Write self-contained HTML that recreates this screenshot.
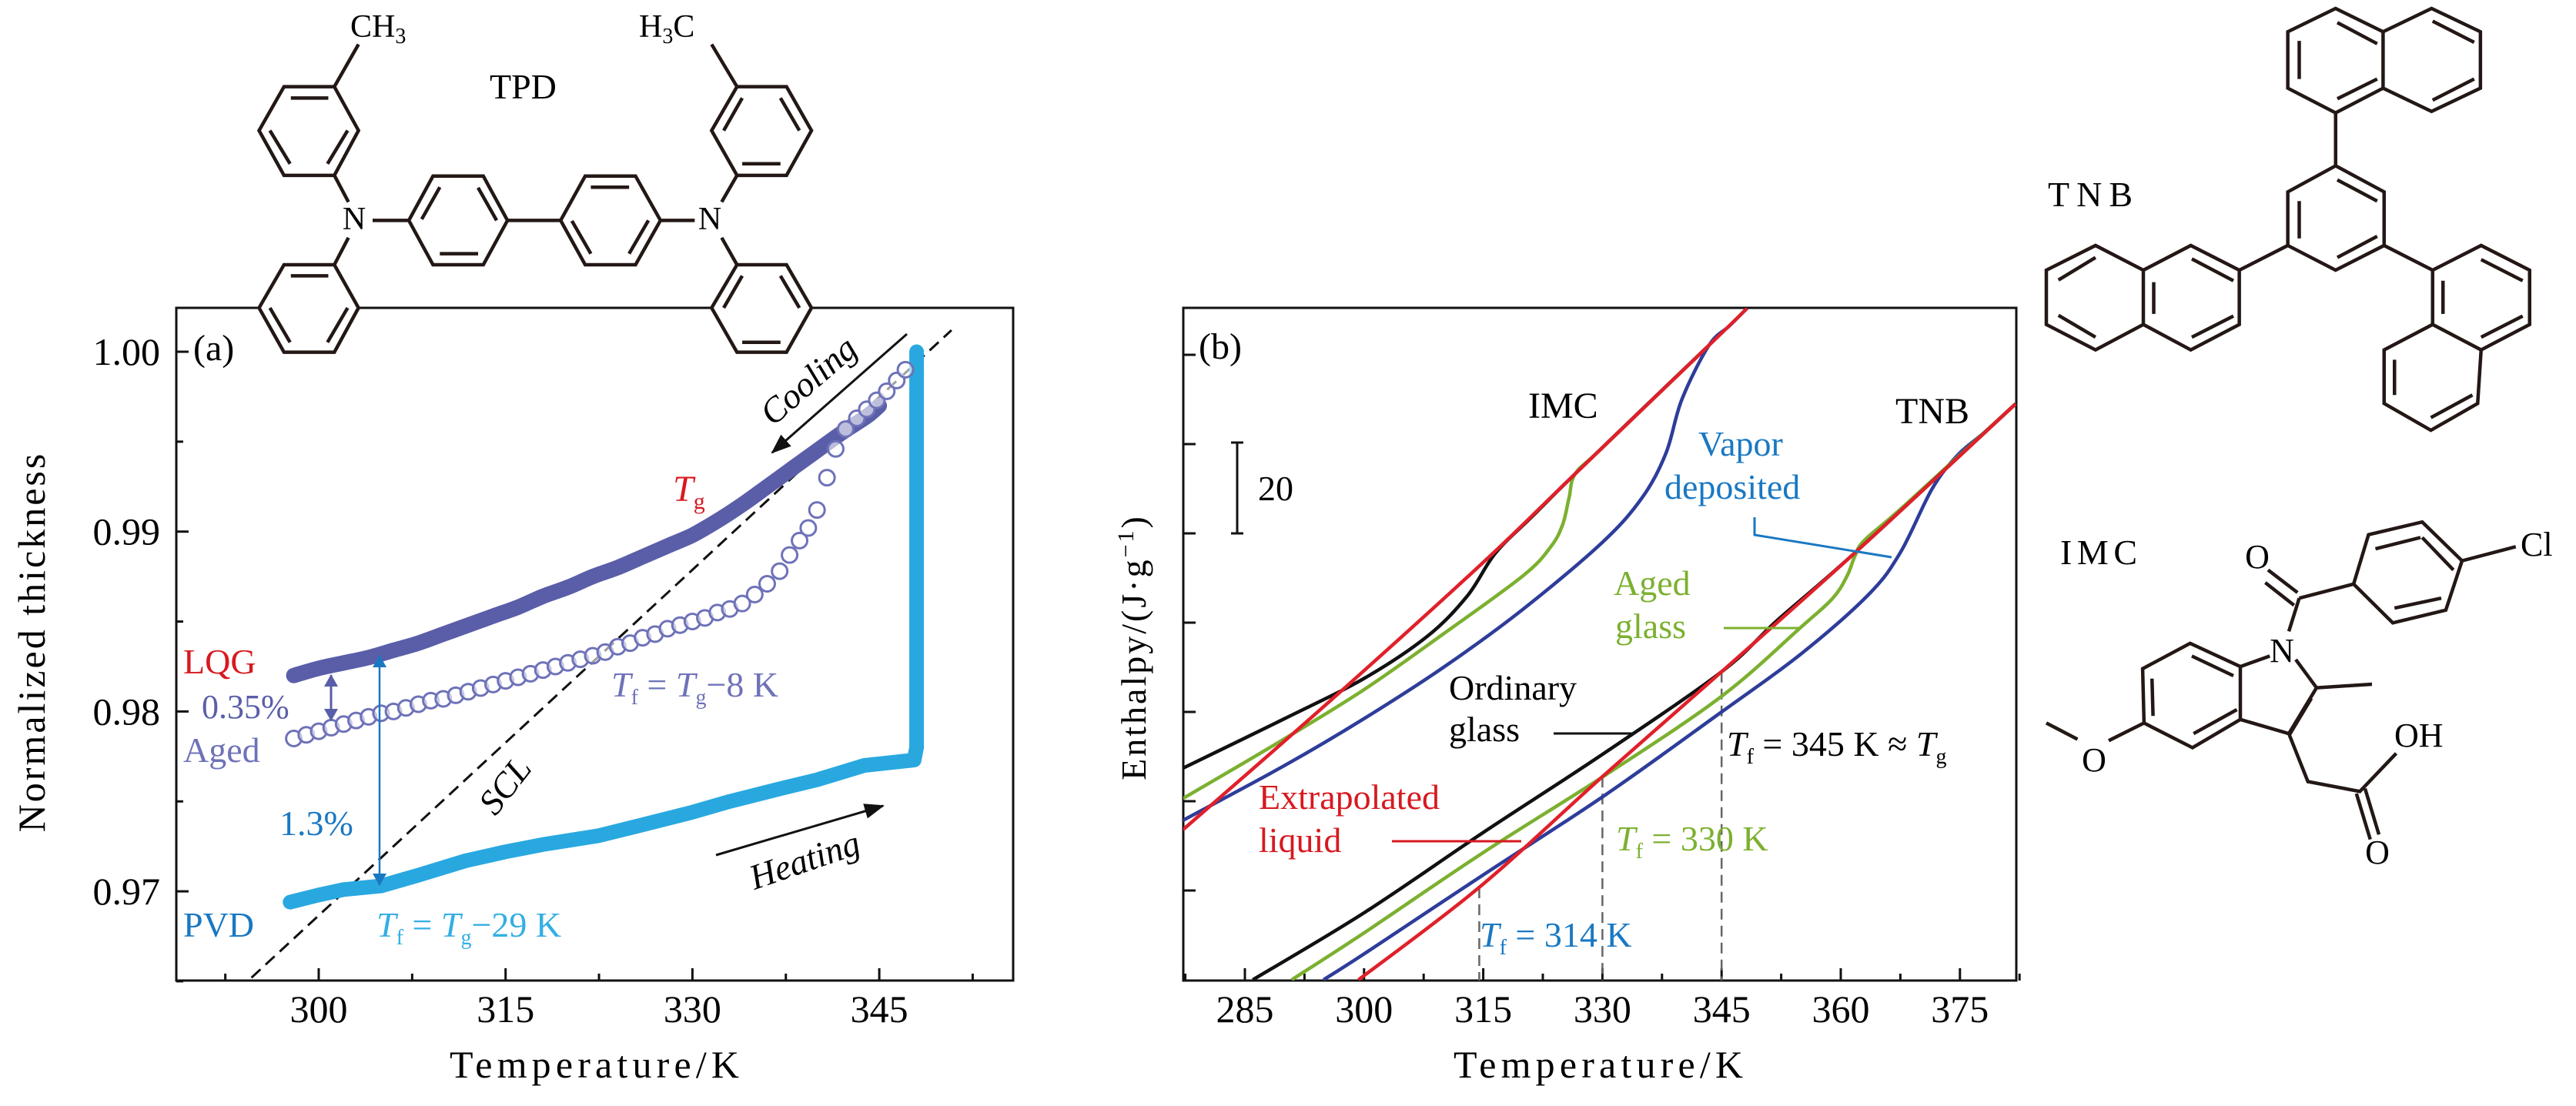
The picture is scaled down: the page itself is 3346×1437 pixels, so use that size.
<!DOCTYPE html>
<html><head><meta charset="utf-8"><style>
html,body{margin:0;padding:0;background:#fff;}
svg{display:block;font-family:"Liberation Serif",serif;}
</style></head><body>
<svg id="fig" width="3346" height="1437" viewBox="0 0 3346 1437" xmlns="http://www.w3.org/2000/svg">
<defs>
<marker id="ahP" markerWidth="16" markerHeight="18" refX="15" refY="9" orient="auto-start-reverse" markerUnits="userSpaceOnUse"><path d="M0,0 L16,9 L0,18 z" fill="#5a5ea8"/></marker>
<marker id="ahB" markerWidth="16" markerHeight="18" refX="15" refY="9" orient="auto-start-reverse" markerUnits="userSpaceOnUse"><path d="M0,0 L16,9 L0,18 z" fill="#1a78c2"/></marker>
<marker id="ahK2" markerWidth="26" markerHeight="20" refX="24" refY="10" orient="auto" markerUnits="userSpaceOnUse"><path d="M0,0 L26,10 L0,20 z" fill="#111"/></marker>
<clipPath id="clipA"><rect x="229" y="400" width="1087" height="874"/></clipPath>
<clipPath id="clipB"><rect x="1537" y="400" width="1082" height="874"/></clipPath>
</defs>

<!-- ============ PANEL A ============ -->
<g id="panelA">
  <rect x="229" y="400" width="1087" height="874" fill="none" stroke="#111" stroke-width="3"/>
  <g id="aTicks"></g>
  <g id="aData" clip-path="url(#clipA)"></g>
  <text x="251" y="468" font-size="48">(a)</text>
  <text transform="translate(58,834) rotate(-90)" text-anchor="middle" font-size="50" letter-spacing="3">Normalized thickness</text>
  <text x="772" y="1400" text-anchor="middle" font-size="50" textLength="376">Temperature/K</text>
  <text x="874" y="651" font-size="48" fill="#d7191f"><tspan font-style="italic">T</tspan><tspan font-size="30" dy="10">g</tspan></text>
  <text x="238" y="875" font-size="46" fill="#d7191f">LQG</text>
  <text x="262" y="933" font-size="44" fill="#5a5ea8">0.35%</text>
  <text x="238" y="990" font-size="46" fill="#6e72b8">Aged</text>
  <text x="363" y="1085" font-size="46" fill="#1a78c2">1.3%</text>
  <text x="238" y="1217" font-size="46" fill="#1a78c2">PVD</text>
  <text x="489" y="1217" font-size="46" fill="#33afe3"><tspan font-style="italic">T</tspan><tspan font-size="28" dy="10">f</tspan><tspan dy="-10"> = </tspan><tspan font-style="italic">T</tspan><tspan font-size="28" dy="10">g</tspan><tspan dy="-10">−29 K</tspan></text>
  <text x="794" y="905" font-size="46" fill="#6e72b8"><tspan font-style="italic">T</tspan><tspan font-size="28" dy="10">f</tspan><tspan dy="-10"> = </tspan><tspan font-style="italic">T</tspan><tspan font-size="28" dy="10">g</tspan><tspan dy="-10">−8 K</tspan></text>
  <text transform="translate(668,1030) rotate(-52)" text-anchor="middle" font-size="46" font-style="italic">SCL</text>
  <text transform="translate(1060,506) rotate(-41)" text-anchor="middle" font-size="46" font-style="italic">Cooling</text>
  <line x1="1178" y1="434" x2="1003" y2="588" stroke="#111" stroke-width="3" marker-end="url(#ahK2)"/>
  <text transform="translate(1050,1132) rotate(-19)" text-anchor="middle" font-size="46" font-style="italic">Heating</text>
  <line x1="930" y1="1111" x2="1147" y2="1047" stroke="#111" stroke-width="3" marker-end="url(#ahK2)"/>
  <line x1="430" y1="877" x2="430" y2="936" stroke="#5a5ea8" stroke-width="3" marker-start="url(#ahP)" marker-end="url(#ahP)"/>
  <line x1="493" y1="852" x2="493" y2="1150" stroke="#1a78c2" stroke-width="2.5" marker-start="url(#ahB)" marker-end="url(#ahB)"/>
</g>

<!-- TPD molecule -->
<g id="tpd">
  <g transform="translate(280,0) scale(0.523,0.32)" fill="none" stroke="#231815" stroke-width="4.5">
    <polygon vector-effect="non-scaling-stroke" points="170,352 295,352 355,530 295,712 170,712 108,530" fill="#fff"/>
    <polygon vector-effect="non-scaling-stroke" points="540,715 665,715 725,895 665,1075 540,1075 480,895" fill="#fff"/>
    <polygon vector-effect="non-scaling-stroke" points="918,715 1043,715 1105,895 1043,1075 918,1075 857,895" fill="#fff"/>
    <polygon vector-effect="non-scaling-stroke" points="1295,352 1418,352 1480,530 1418,712 1295,712 1232,530" fill="#fff"/>
    <polygon vector-effect="non-scaling-stroke" points="170,1075 295,1075 355,1250 295,1430 170,1430 108,1250" fill="#fff"/>
    <polygon vector-effect="non-scaling-stroke" points="1295,1075 1418,1075 1480,1250 1418,1430 1295,1430 1232,1250" fill="#fff"/>
    <path vector-effect="non-scaling-stroke" d="M187,398 L280,398 M328,530 L278,665 M135,530 L185,665
      M295,352 L355,180 M295,712 L330,820 M390,895 L480,895 M330,965 L295,1075
      M512,890 L557,760 M652,762 L698,895 M557,1030 L652,1030 M725,895 L857,895
      M932,760 L1027,760 M885,897 L932,1030 M1075,895 L1027,1030 M1105,895 L1190,895
      M1257,820 L1295,712 M1257,965 L1295,1075
      M1262,530 L1308,398 M1403,398 L1450,530 M1308,665 L1403,665 M1295,352 L1232,180
      M187,1120 L280,1120 M135,1250 L185,1390 M328,1250 L278,1390
      M1262,1250 L1308,1120 M1403,1120 L1450,1250 M1308,1390 L1403,1390"/>
  </g>
  <text x="455" y="48" font-size="42">CH<tspan font-size="28" dy="8">3</tspan></text>
  <text x="830" y="48" font-size="42">H<tspan font-size="28" dy="8">3</tspan><tspan dy="-8">C</tspan></text>
  <text x="636" y="128" font-size="46">TPD</text>
  <text x="460" y="298" text-anchor="middle" font-size="42">N</text>
  <text x="922" y="298" text-anchor="middle" font-size="42">N</text>
</g>

<!-- ============ PANEL B ============ -->
<g id="panelB">
  <rect x="1537" y="400" width="1082" height="874" fill="none" stroke="#111" stroke-width="3"/>
  <g id="bTicks"></g>
  <g id="bData" clip-path="url(#clipB)"></g>
  <text x="1557" y="466" font-size="48">(b)</text>
  <text transform="translate(1488,841) rotate(-90)" text-anchor="middle" font-size="46" letter-spacing="3">Enthalpy/(J·g<tspan font-size="30" dy="-16">−1</tspan><tspan dy="16">)</tspan></text>
  <text x="2076" y="1400" text-anchor="middle" font-size="50" textLength="376">Temperature/K</text>
  <path d="M1607,575 L1607,693 M1599,575 L1615,575 M1599,693 L1615,693" stroke="#111" stroke-width="3" fill="none"/>
  <text x="1634" y="650" font-size="46">20</text>
  <text x="1985" y="543" font-size="48">IMC</text>
  <text x="2462" y="550" font-size="48">TNB</text>
  <text x="2206" y="592" font-size="46" fill="#1a78c2">Vapor</text>
  <text x="2162" y="648" font-size="46" fill="#1a78c2">deposited</text>
  <text x="2096" y="773" font-size="46" fill="#7cb030">Aged</text>
  <text x="2098" y="829" font-size="46" fill="#7cb030">glass</text>
  <text x="1882" y="909" font-size="46">Ordinary</text>
  <text x="1882" y="963" font-size="46">glass</text>
  <text x="1635" y="1051" font-size="46" fill="#d7191f">Extrapolated</text>
  <text x="1635" y="1107" font-size="46" fill="#d7191f">liquid</text>
  <text x="2243" y="982" font-size="46"><tspan font-style="italic">T</tspan><tspan font-size="28" dy="10">f</tspan><tspan dy="-10"> = 345 K ≈ </tspan><tspan font-style="italic">T</tspan><tspan font-size="28" dy="10">g</tspan></text>
  <text x="2099" y="1105" font-size="46" fill="#7cb030"><tspan font-style="italic">T</tspan><tspan font-size="28" dy="10">f</tspan><tspan dy="-10"> = 330 K</tspan></text>
  <text x="1922" y="1230" font-size="46" fill="#1a78c2"><tspan font-style="italic">T</tspan><tspan font-size="28" dy="10">f</tspan><tspan dy="-10"> = 314 K</tspan></text>
  <line x1="2018" y1="953" x2="2121" y2="953" stroke="#111" stroke-width="3"/>
  <line x1="1808" y1="1093" x2="1976" y2="1093" stroke="#d7191f" stroke-width="3"/>
  <line x1="2239" y1="816" x2="2337" y2="816" stroke="#7cb030" stroke-width="3"/>
  <polyline points="2279,672 2279,695 2457,724" fill="none" stroke="#1a78c2" stroke-width="3"/>
</g>

<!-- TNB molecule -->
<g id="tnb">
  <g transform="translate(2640,0) scale(0.45,0.9165)" fill="none" stroke="#231815" stroke-width="4.5">
    <path vector-effect="non-scaling-stroke" d="M875,12 L1012,45 L1012,125 L875,160 L737,125 L737,45 Z M1012,45 L1152,12 L1293,45 L1293,125 L1152,158 L1012,125
      M770,58 L770,112 M880,32 L995,62 M1155,30 L1275,60 M1155,142 L1275,112 M880,140 L995,112
      M875,160 L875,235
      M875,235 L1015,272 L1015,348 L875,383 L737,348 L737,272 Z M770,285 L770,338 M880,255 L995,285 M880,365 L995,335
      M737,348 L597,383
      M597,383 L597,460 L457,496 L320,460 L320,383 L457,348 Z M320,383 L182,348 L40,383 L40,460 L182,496 L320,460
      M350,400 L350,445 M460,367 L580,398 M460,478 L580,448 M75,397 L182,365 M75,447 L182,478
      M1015,348 L1155,383
      M1155,383 L1295,348 L1435,383 L1435,460 L1295,496 L1155,460 Z M1155,460 L1295,496 L1285,572 L1150,610 L1015,572 L1015,496 Z
      M1185,398 L1185,445 M1295,368 L1415,398 M1295,478 L1415,448 M1045,510 L1045,560 M1150,592 L1270,560"/>
  </g>
  <text x="2660" y="268" font-size="46" textLength="116" letter-spacing="6">TNB</text>
</g>

<!-- IMC molecule -->
<g id="imc">
  <g transform="translate(2640,0) scale(0.45,0.9165)" fill="none" stroke="#231815" stroke-width="4.5">
    <path vector-effect="non-scaling-stroke" d="M970,758 L1125,740 L1240,795 L1193,865 L1040,883 L927,828 Z
      M990,778 L1120,762 M1125,762 L1215,808 M1045,862 L1180,848
      M1240,795 L1395,775 M927,828 L770,848 M765,840 L680,808 M755,858 L672,826 M770,848 L740,895
      M685,930 L600,945 M760,935 L820,975 L740,1040 M805,990 L740,1043 M740,1040 L600,1020 M600,945 L600,1020
      M820,975 L980,970
      M600,945 L455,912 L318,948 L322,1025 L462,1060 L600,1020 M460,930 L580,958 M345,962 L348,1015 M465,1040 L590,1006
      M322,1025 L220,1050 M130,1048 L40,1025
      M740,1040 L795,1108 L945,1122 L1050,1068 M935,1125 L975,1190 M960,1118 L1000,1183"/>
  </g>
  <text x="2676" y="733" font-size="46" textLength="106" letter-spacing="6">IMC</text>
  <text x="2932" y="738" text-anchor="middle" font-size="44">O</text>
  <text x="3274" y="722" font-size="44">Cl</text>
  <text x="2964" y="860" text-anchor="middle" font-size="44">N</text>
  <text x="2720" y="1002" text-anchor="middle" font-size="44">O</text>
  <text x="3110" y="970" font-size="44">OH</text>
  <text x="3088" y="1122" text-anchor="middle" font-size="44">O</text>
</g>
</svg>

<script>
// ---------- Panel A data ----------
const aXTicks = [300, 315, 330, 345];
const aYTicks = [0.97, 0.98, 0.99, 1.00];
const aYTickLabels = ["0.97", "0.98", "0.99", "1.00"];
const lqgT = [298,300,302,304,306,308,310,312,314,316,318,320,322,324,326,328,330,332,334,336,338,340,342,344,345];
const lqgV = [0.9820,0.9824,0.9827,0.9830,0.9834,0.9838,0.9843,0.9848,0.9853,0.9858,0.9864,0.9869,0.9875,0.9880,0.9886,0.9892,0.9898,0.9906,0.9915,0.9925,0.9935,0.9945,0.9955,0.9964,0.9970];
const agedT = [298,299,300,301,302,303,304,305,306,307,308,309,310,311,312,313,314,315,316,317,318,319,320,321,322,323,324,325,326,327,328,329,330,331,332,333,334,335,336,337,337.8,338.6,339.3,340.0,340.8,341.5,342.3,343.2,344.0,344.8,345.6,346.4,347.1];
const agedV = [0.9785,0.9787,0.9789,0.9791,0.9793,0.9795,0.9797,0.9799,0.9800,0.9802,0.9804,0.9806,0.9807,0.9809,0.9811,0.9813,0.9815,0.9817,0.9819,0.9821,0.9823,0.9825,0.9827,0.9829,0.9831,0.9833,0.9836,0.9838,0.9841,0.9843,0.9846,0.9848,0.9850,0.9852,0.9855,0.9857,0.9860,0.9865,0.9871,0.9878,0.9887,0.9895,0.9902,0.9912,0.9930,0.9946,0.9957,0.9963,0.9968,0.9973,0.9978,0.9984,0.9990];
const pvdT = [297.7,300,302,305,308,311.8,315,318,322.5,326,330,333,337,340,343.8,347.8,348,348];
const pvdV = [0.9694,0.9698,0.9701,0.9703,0.9709,0.9717,0.9722,0.9726,0.9731,0.9737,0.9744,0.9750,0.9757,0.9762,0.9770,0.9773,0.9780,1.0000];
const sclT = [294.6, 350.8];
const sclV = [0.9652, 1.0012];

// ---------- Panel B data ----------
const bXTicks = [285, 300, 315, 330, 345, 360, 375];
const bYTicks = [20, 40, 60, 80, 100, 120, 140];
const imcRedT = [277.2, 296, 315, 326.2, 343.4, 348.2];
const imcRedH = [33.6, 62.9, 93.5, 112.7, 142.1, 150.4];
const imcBlackT = [277.2, 290, 300, 308, 313, 316.5, 321, 326.2, 335, 343.4];
const imcBlackH = [47.4, 58.5, 67.5, 77, 86, 95.5, 103.5, 112.7, 127.8, 142.1];
const imcGreenT = [277.2, 290, 300, 310, 320, 323.5, 325, 325.8, 326.6, 330, 343.4];
const imcGreenH = [40.6, 54, 65, 77.5, 90.5, 97, 102, 108, 113.4, 119.2, 142.1];
const imcBlueT = [277.2, 290, 300, 310, 320, 330, 335, 338, 340, 343.4, 346, 348.2];
const imcBlueH = [35.7, 48, 58.5, 70, 83, 98, 108, 118, 130, 142.1, 146.5, 150.4];
const tnbRedT = [299.3, 314.5, 330, 345, 362, 382];
const tnbRedH = [0, 20.7, 45.5, 69, 96, 129];
const tnbBlackT = [286, 300, 315, 330, 345, 352, 362, 382];
const tnbBlackH = [0, 15, 33, 50.5, 69, 80.5, 96, 129];
const tnbGreenT = [290.9, 300, 315, 330.5, 345, 355, 359, 360.8, 361.8, 363, 368, 382];
const tnbGreenH = [0, 10.5, 28.5, 46, 63.5, 79, 85.5, 90.5, 95, 98.5, 106.2, 129];
const tnbBlueT = [294.9, 300, 315, 330.2, 345, 355, 363.5, 367.5, 371.5, 374.7, 378, 382];
const tnbBlueH = [0, 5.8, 23.5, 41.2, 60, 73, 86.3, 95.7, 110, 117.5, 122.5, 129];
const tfT = [314.5, 330, 345];
const tfH = [20.7, 45.5, 69];

const NS = "http://www.w3.org/2000/svg";
function xa(T){ return 414 + (T - 300) * 16.18; }
function ya(v){ return 457 + (1.00 - v) * 23370; }
function xb(T){ return 1617 + (T - 285) * 10.32; }
function yb(H){ return 1273 - H * 5.8; }
function mk(tag, attrs, parent){
  const e = document.createElementNS(NS, tag);
  for (const k in attrs) e.setAttribute(k, attrs[k]);
  parent.appendChild(e);
  return e;
}
function pts(X, Y, fx, fy){ return X.map((t,i)=> fx(t).toFixed(1)+","+fy(Y[i]).toFixed(1)).join(" "); }
function smooth(X, Y, fx, fy){
  const P = X.map((t,i)=>[fx(t), fy(Y[i])]);
  let d = "M" + P[0][0].toFixed(1) + "," + P[0][1].toFixed(1);
  for (let i = 0; i < P.length - 1; i++) {
    const p0 = P[Math.max(0,i-1)], p1 = P[i], p2 = P[i+1], p3 = P[Math.min(P.length-1,i+2)];
    const c1 = [p1[0] + (p2[0]-p0[0])/6, p1[1] + (p2[1]-p0[1])/6];
    const c2 = [p2[0] - (p3[0]-p1[0])/6, p2[1] - (p3[1]-p1[1])/6];
    d += " C" + c1.map(v=>v.toFixed(1)).join(",") + " " + c2.map(v=>v.toFixed(1)).join(",") + " " + p2[0].toFixed(1) + "," + p2[1].toFixed(1);
  }
  return d;
}

// Panel A ticks
const aT = document.getElementById("aTicks");
for (let T = 292.5; T < 356; T += 7.5) {
  const major = aXTicks.includes(T);
  const t = mk("line", {x1: xa(T), x2: xa(T), y1: 1274, y2: 1274 - (major ? 16 : 9), stroke: "#111", "stroke-width": 3}, aT);
  
  
}
aXTicks.forEach(T => {
  const l = mk("text", {x: xa(T), y: 1328, "text-anchor": "middle", "font-size": 50}, aT);
  l.textContent = String(T);
  
  
});
for (let v = 0.965; v <= 1.0026; v += 0.005) {
  const major = aYTicks.some(m => Math.abs(m - v) < 1e-6);
  const t = mk("line", {x1: 229, x2: 229 + (major ? 16 : 9), y1: ya(v), y2: ya(v), stroke: "#111", "stroke-width": 3}, aT);
  
  
}
aYTicks.forEach((v, i) => {
  const l = mk("text", {x: 208, y: ya(v) + 17, "text-anchor": "end", "font-size": 50}, aT);
  l.textContent = aYTickLabels[i];
  
  
});

// Panel A data
const aD = document.getElementById("aData");
const scl = mk("polyline", {points: pts(sclT, sclV, xa, ya), fill: "none", stroke: "#111", "stroke-width": 3, "stroke-dasharray": "16 9"}, aD);


const pvd = mk("polyline", {points: pts(pvdT, pvdV, xa, ya), fill: "none", stroke: "#29a8e0", "stroke-width": 19, "stroke-linejoin": "round", "stroke-linecap": "round"}, aD);


const lqg = mk("path", {d: smooth(lqgT, lqgV, xa, ya), fill: "none", stroke: "#5a5ea8", "stroke-width": 20, "stroke-linejoin": "round", "stroke-linecap": "round"}, aD);


agedT.forEach((T, i) => {
  const c = mk("circle", {cx: xa(T), cy: ya(agedV[i]), r: 10, fill: "#fff", "fill-opacity": 0.6, stroke: "#6e72b8", "stroke-width": 3}, aD);
  
  
});

// Panel B ticks
const bT = document.getElementById("bTicks");
for (let T = 277.5; T < 383; T += 7.5) {
  const major = bXTicks.includes(T);
  const t = mk("line", {x1: xb(T), x2: xb(T), y1: 1274, y2: 1274 - (major ? 16 : 9), stroke: "#111", "stroke-width": 3}, bT);
  
  
}
bXTicks.forEach(T => {
  const l = mk("text", {x: xb(T), y: 1328, "text-anchor": "middle", "font-size": 50}, bT);
  l.textContent = String(T);
  
  
});
bYTicks.forEach(H => {
  const t = mk("line", {x1: 1537, x2: 1553, y1: yb(H), y2: yb(H), stroke: "#111", "stroke-width": 3}, bT);
  
  
});

// Panel B data
const bD = document.getElementById("bData");
tfT.forEach((T, i) => {
  const d = mk("line", {x1: xb(T), x2: xb(T), y1: yb(tfH[i]), y2: 1274, stroke: "#666", "stroke-width": 2.5, "stroke-dasharray": "14 8"}, bD);
  
  
});
function curve(X, Y, color, name){
  const p = mk("path", {d: smooth(X, Y, xb, yb), fill: "none", stroke: color, "stroke-width": 4.5, "stroke-linejoin": "round"}, bD);
  
  
}
curve(imcBlueT, imcBlueH, "#2e3d9a", "imc-vapor-deposited-curve");
curve(imcGreenT, imcGreenH, "#7cb030", "imc-aged-glass-curve");
curve(imcBlackT, imcBlackH, "#111", "imc-ordinary-glass-curve");
curve(imcRedT, imcRedH, "#e0202a", "imc-liquid-curve");
curve(tnbBlueT, tnbBlueH, "#2e3d9a", "tnb-vapor-deposited-curve");
curve(tnbGreenT, tnbGreenH, "#7cb030", "tnb-aged-glass-curve");
curve(tnbBlackT, tnbBlackH, "#111", "tnb-ordinary-glass-curve");
curve(tnbRedT, tnbRedH, "#e0202a", "tnb-liquid-curve");
</script>
</body></html>
